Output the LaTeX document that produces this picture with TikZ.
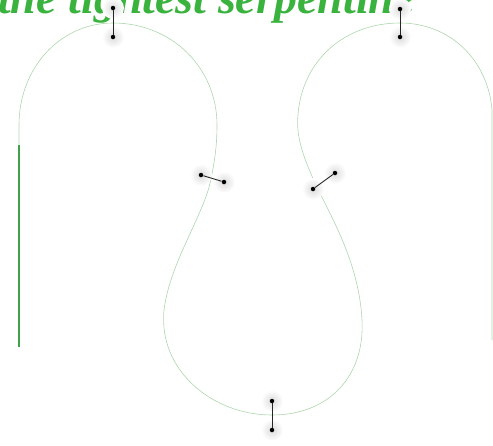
\documentclass[tikz,border=0pt]{standalone}
\usepackage{fontspec}
\newfontfamily\titlefont{Liberation Serif}
\usepackage{tikz}
\usepackage{xcolor}
\definecolor{titlegreen}{RGB}{58,178,62}
\definecolor{pathgreen}{RGB}{172,214,172}
\definecolor{linegreen}{RGB}{62,162,72}
\tikzset{
  knob/.style={circle,fill=black,inner sep=0pt,minimum size=4.5pt},
  handle/.style={black!85,line width=0.9pt},
  halo/.style={inner color=black!14,outer color=white},
}

\begin{document}
\begin{tikzpicture}[x=1pt,y=-1pt]
\useasboundingbox (0,0) rectangle (493,445);
\clip (0,0) rectangle (493,445);
\node[anchor=base west,inner sep=0pt,text=titlegreen,font=\titlefont\bfseries\itshape\fontsize{46}{46}\selectfont] (title) at (-2,13) {the tightest serpentine};
\draw[linegreen,line width=1.1pt] (19,347) -- (19,145);
\draw[pathgreen,line width=0.6pt] (19,145) -- (19,125)
  .. controls (19,68) and (60,23) .. (113,23)
  .. controls (172,23) and (217,68) .. (217,125)
  .. controls (217,148) and (214,164) .. (211,179)
  .. controls (204,215) and (170,262) .. (164,310)
  .. controls (158,370) and (212,415) .. (272,415)
  .. controls (330,415) and (365,375) .. (362,320)
  .. controls (359,262) and (330,215) .. (316,185)
  .. controls (302,155) and (296,135) .. (298,115)
  .. controls (302,60) and (345,23) .. (400,23)
  .. controls (450,23) and (488,60) .. (492,110)
  -- (492,340);
\foreach \p in {(113,8),(113,37),(400,9),(400,37),(201,175),(224,182),(313,189),(335,173),(272,401),(272,430)}
  \shade[halo] \p circle (11pt);
\node[knob] (tlA) at (113,8) {};
\node[knob] (tlB) at (113,37) {};
\node[knob] (trA) at (400,9) {};
\node[knob] (trB) at (400,37) {};
\node[knob] (mlA) at (201,175) {};
\node[knob] (mlB) at (224,182) {};
\node[knob] (mrA) at (313,189) {};
\node[knob] (mrB) at (335,173) {};
\node[knob] (btA) at (272,401) {};
\node[knob] (btB) at (272,430) {};
\draw[handle] (tlA) -- (tlB);
\draw[handle] (trA) -- (trB);
\draw[handle] (mlA) -- (mlB);
\draw[handle] (mrA) -- (mrB);
\draw[handle] (btA) -- (btB);
\end{tikzpicture}
\end{document}
